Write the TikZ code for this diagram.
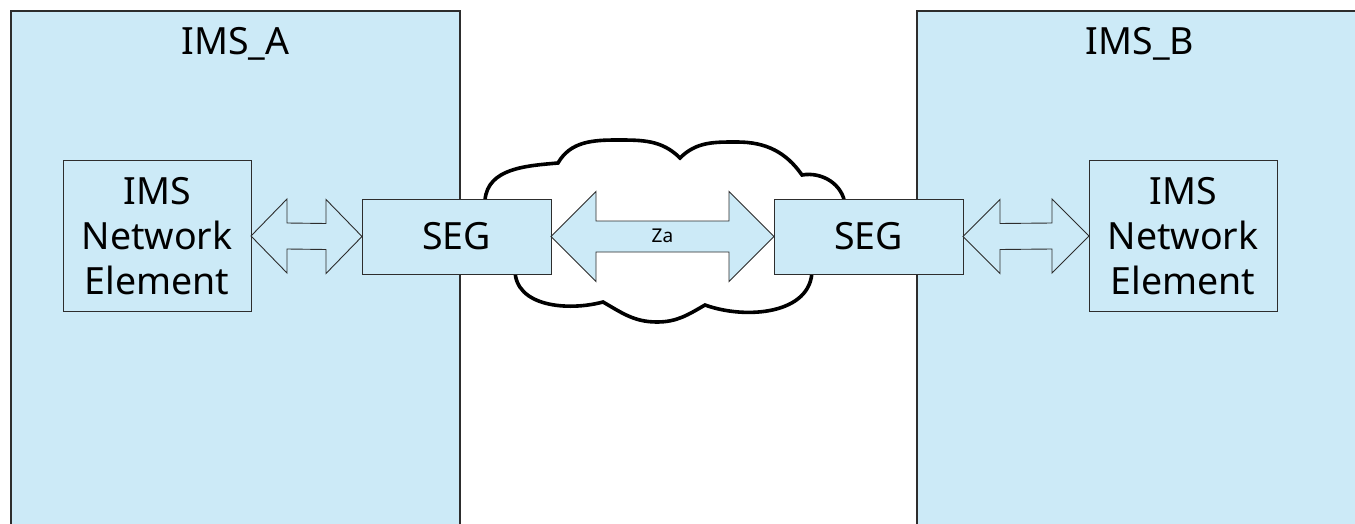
\documentclass[tikz,border=0pt]{standalone}
\usepackage{fontspec}
\setmainfont{Noto Sans}
\usetikzlibrary{calc}
\definecolor{imsblue}{RGB}{204,234,247}
\definecolor{edgegray}{RGB}{45,45,45}
\newcommand{\dblarrow}[5]{%
  \filldraw[arrowshape] (#1) -- ($(#1)+(#3,#4)$) -- ($(#1)+(#3,#5)$)
    -- ($(#2)+(-#3,#5)$) -- ($(#2)+(-#3,#4)$) -- (#2)
    -- ($(#2)+(-#3,-#4)$) -- ($(#2)+(-#3,-#5)$)
    -- ($(#1)+(#3,-#5)$) -- ($(#1)+(#3,-#4)$) -- cycle;}
\tikzset{
  bigbox/.style={draw=edgegray, fill=imsblue, line width=1.2pt, inner sep=0pt, outer sep=0pt},
  nebox/.style={draw=edgegray, fill=imsblue, line width=1pt, inner sep=0pt, outer sep=0pt,
    minimum width=188, minimum height=150, align=center,
    font=\fontsize{37.5}{45}\selectfont},
  segbox/.style={draw=edgegray, fill=imsblue, line width=1pt, inner sep=0pt, outer sep=0pt,
    minimum width=189, minimum height=75, font=\fontsize{37.5}{45}\selectfont},
  biglabel/.style={anchor=base, inner sep=0pt, font=\fontsize{37.5}{45}\selectfont},
  arrowshape/.style={draw=edgegray, fill=imsblue, line width=0.9pt, line join=miter},
  cloudline/.style={draw=black, fill=white, line width=3.6pt, line join=miter}
}
\begin{document}
\begin{tikzpicture}[x=1pt,y=1pt]
\useasboundingbox (0,0) rectangle (1355,-524);
\fill[white] (0,0) rectangle (1355,-524);
\begin{scope}
\clip (0,0) rectangle (1355,-524);
\node[bigbox, minimum width=449, minimum height=540] (imsA) at (235.5,-281) {};
\node[bigbox, minimum width=446, minimum height=540] (imsB) at (1140,-281) {};
\end{scope}
\node[biglabel] (labA) at (235.5,-55) {IMS\_A};
\node[biglabel] (labB) at (1140,-55) {IMS\_B};

% cloud
\path[cloudline] (485,-200) to[out=85,in=185] (558,-163)
  to[out=60,in=180] (617,-140) to[out=0,in=135] (680,-158)
  to[out=45,in=180] (737,-142) to[out=0,in=125] (802,-175)
  to[out=10,in=95] (845,-205) to[out=-95,in=90] (812,-270)
  to[out=-90,in=-20] (705,-305)
  to[out=-150,in=0] (657,-322) to[out=180,in=-30] (603,-302)
  to[out=-165,in=-90] (515,-270) to[out=90,in=-85] (485,-200) -- cycle;

% nodes
\node[nebox] (ne1) at (157,-236) {IMS\\Network\\Element};
\node[nebox] (ne2) at (1183,-236) {IMS\\Network\\Element};
\node[segbox] (seg1) at (456.5,-236.5) {SEG};
\node[segbox] (seg2) at (868.5,-236.5) {SEG};

% connectors
\dblarrow{ne1.east}{seg1.west}{36}{37}{13}
\dblarrow{seg2.east}{ne2.west}{37}{37}{13}
\dblarrow{seg1.east}{seg2.west}{45}{45}{15.5}
\node[anchor=base, inner sep=0pt, font=\fontsize{19}{22}\selectfont] (za) at ($(seg1.east)!0.5!(seg2.west)+(0,-5.5)$) {Za};
\end{tikzpicture}
\end{document}
